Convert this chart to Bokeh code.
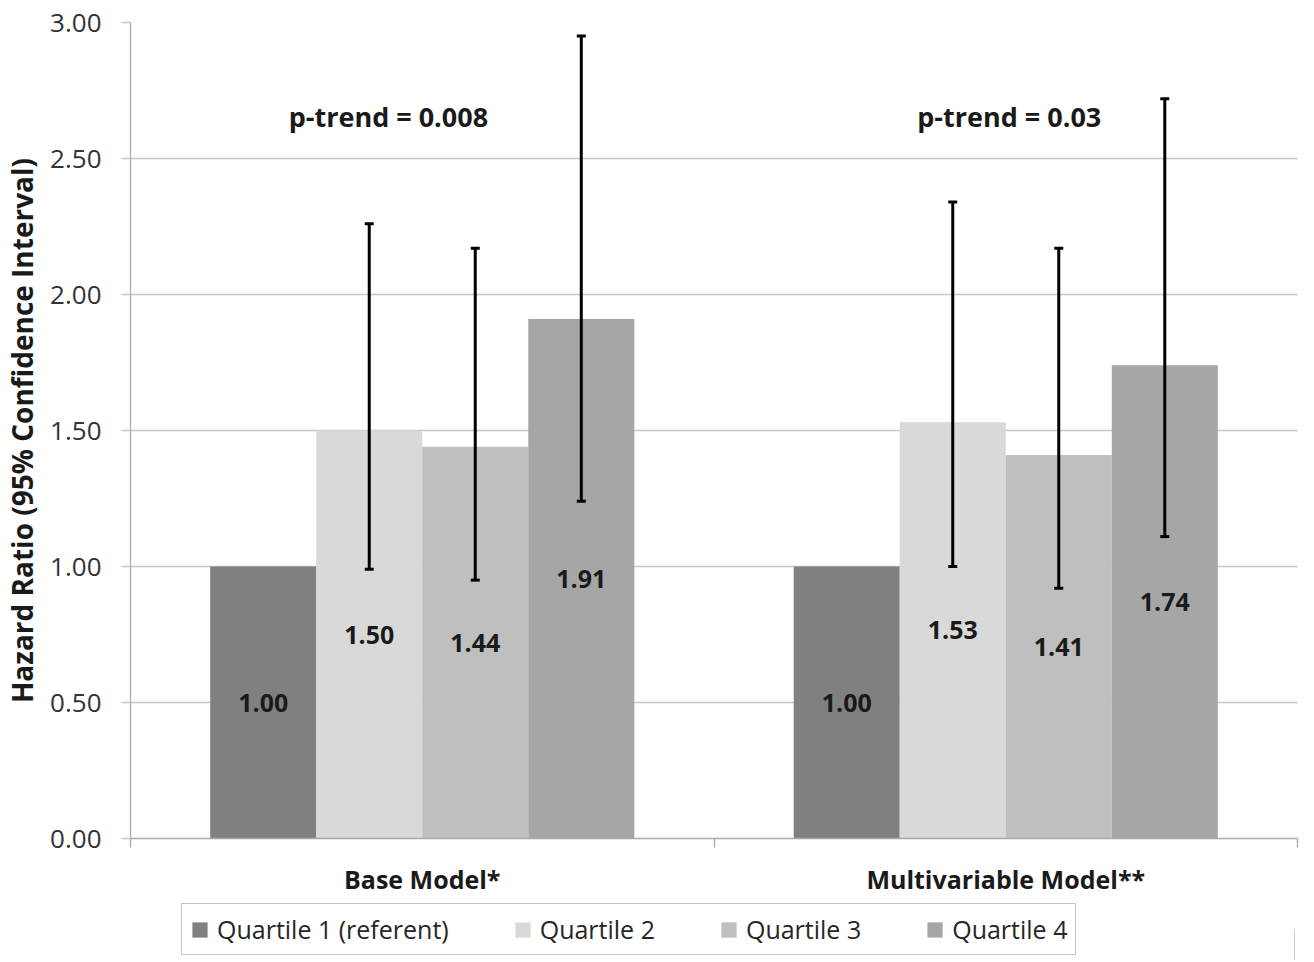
from bokeh.plotting import figure
from bokeh.layouts import column
from bokeh.models import (Range1d, FixedTicker, ColumnDataSource, Whisker, TeeHead,
                          Legend, LegendItem, NumeralTickFormatter)
from bokeh.core.properties import value
from bokeh.embed import file_html
from bokeh.resources import INLINE

# ---------------- data ----------------
models = ["Base Model*", "Multivariable Model**"]
quartiles = ["Quartile 1 (referent)", "Quartile 2", "Quartile 3", "Quartile 4"]
hr_base = [1.00, 1.50, 1.44, 1.91]
hr_multi = [1.00, 1.53, 1.41, 1.74]
ci_low_base = [None, 0.99, 0.95, 1.24]
ci_high_base = [None, 2.26, 2.17, 2.95]
ci_low_multi = [None, 1.00, 0.92, 1.11]
ci_high_multi = [None, 2.34, 2.17, 2.72]
p_trend = ["p-trend = 0.008", "p-trend = 0.03"]
y_ticks = [0.0, 0.5, 1.0, 1.5, 2.0, 2.5, 3.0]

# ---------------- style ----------------
colors = ["#808080", "#d9d9d9", "#bfbfbf", "#a6a6a6"]
FONT = "Open Sans"
TEXT = "#1a1a1a"
GRID = "#c6c6c6"
bar_w = 0.1817

p = figure(frame_width=1167, frame_height=816, output_backend="svg", toolbar_location=None,
           x_range=Range1d(0, 2), y_range=Range1d(0, 3),
           min_border_left=127, min_border_right=4, min_border_top=22, min_border_bottom=58)
p.outline_line_color = None
p.background_fill_color = "white"
p.border_fill_color = "white"

centers = [0.5, 1.5]
for i, q in enumerate(quartiles):
    xs = [c + (i - 1.5) * bar_w for c in centers]
    vals = [hr_base[i], hr_multi[i]]
    src = ColumnDataSource(dict(x=xs, top=vals))
    p.vbar(x="x", top="top", width=bar_w, bottom=0, source=src,
           fill_color=colors[i], line_color=None)

# error bars
wx, wl, wu = [], [], []
for gi, (lo, hi) in enumerate([(ci_low_base, ci_high_base), (ci_low_multi, ci_high_multi)]):
    for i in range(4):
        if lo[i] is None:
            continue
        wx.append(centers[gi] + (i - 1.5) * bar_w)
        wl.append(lo[i])
        wu.append(hi[i])
wsrc = ColumnDataSource(dict(x=wx, lower=wl, upper=wu))
wh = Whisker(base="x", lower="lower", upper="upper", source=wsrc, level="overlay",
             line_color="black", line_width=3,
             upper_head=TeeHead(size=9, line_width=3, line_color="black"),
             lower_head=TeeHead(size=9, line_width=3, line_color="black"))
p.add_layout(wh)

# value labels
for i in range(4):
    xs = [c + (i - 1.5) * bar_w for c in centers]
    vals = [hr_base[i], hr_multi[i]]
    p.text(x=xs, y=[v / 2 for v in vals], text=["%.2f" % v for v in vals],
           text_align="center", text_baseline="middle", text_font=value(FONT),
           text_font_style="bold", text_font_size="25px", text_color=TEXT)

# p-trend labels
p.text(x=[0.442, 1.506], y=[2.655, 2.655], text=p_trend, text_align="center",
       text_baseline="middle", text_font=value(FONT), text_font_style="bold",
       text_font_size="27px", text_color=TEXT)

# y axis
p.yaxis.ticker = FixedTicker(ticks=y_ticks)
p.yaxis.formatter = NumeralTickFormatter(format="0.00")
p.yaxis.axis_label = "Hazard Ratio (95% Confidence Interval)"
p.yaxis.axis_label_text_font = FONT
p.yaxis.axis_label_text_font_style = "bold"
p.yaxis.axis_label_text_font_size = "28px"
p.yaxis.axis_label_text_color = TEXT
p.yaxis.axis_label_standoff = 6
p.yaxis.major_label_text_font = FONT
p.yaxis.major_label_text_font_size = "26px"
p.yaxis.major_label_text_color = "#333333"
p.yaxis.major_label_standoff = 20
p.yaxis.axis_line_color = "#a8a8a8"
p.yaxis.axis_line_width = 1.3
p.yaxis.major_tick_line_color = GRID
p.yaxis.major_tick_line_width = 1.3
p.yaxis.major_tick_out = 9
p.yaxis.major_tick_in = 0
p.yaxis.minor_tick_line_color = None

p.ygrid.ticker = FixedTicker(ticks=y_ticks)
p.ygrid.grid_line_color = GRID
p.ygrid.grid_line_width = 1.3
p.xgrid.grid_line_color = None

# x axis
p.xaxis.ticker = FixedTicker(ticks=centers, minor_ticks=[0, 1, 2])
p.xaxis.major_label_overrides = {0.5: models[0], 1.5: models[1]}
p.xaxis.major_tick_line_color = None
p.xaxis.major_tick_out = 0
p.xaxis.major_tick_in = 0
p.xaxis.minor_tick_line_color = "#a8a8a8"
p.xaxis.minor_tick_line_width = 1.3
p.xaxis.minor_tick_out = 9
p.xaxis.minor_tick_in = 0
p.xaxis.axis_line_color = "#a8a8a8"
p.xaxis.axis_line_width = 1.3
p.xaxis.major_label_standoff = 14
p.xaxis.major_label_text_font = FONT
p.xaxis.major_label_text_font_style = "bold"
p.xaxis.major_label_text_font_size = "25px"
p.xaxis.major_label_text_color = TEXT

# legend in its own strip below the chart (frame aligned with the chart frame)
lf = figure(width=1298, height=62, output_backend="svg", toolbar_location=None,
            x_range=Range1d(0, 1), y_range=Range1d(0, 1),
            min_border_left=0, min_border_right=0, min_border_top=0, min_border_bottom=0)
lf.axis.visible = False
lf.grid.visible = False
lf.outline_line_color = None
lrs = []
for i, q in enumerate(quartiles):
    lrs.append(lf.vbar(x=[10], top=[0.5], width=0.1, fill_color=colors[i], line_color=None))
legend = Legend(items=[LegendItem(label=q, renderers=[r]) for q, r in zip(quartiles, lrs)],
                orientation="horizontal", location=(51, 5),
                border_line_color="#8a8a8a", border_line_width=1.5,
                label_text_font=FONT, label_text_font_size="25px", label_text_color="#262626",
                glyph_width=19, glyph_height=19, label_standoff=8, spacing=64,
                padding=8, margin=0, background_fill_color="white")
lf.add_layout(legend, "center")

layout = column(p, lf, spacing=0)
open("out.html", "w").write(file_html(layout, INLINE))
